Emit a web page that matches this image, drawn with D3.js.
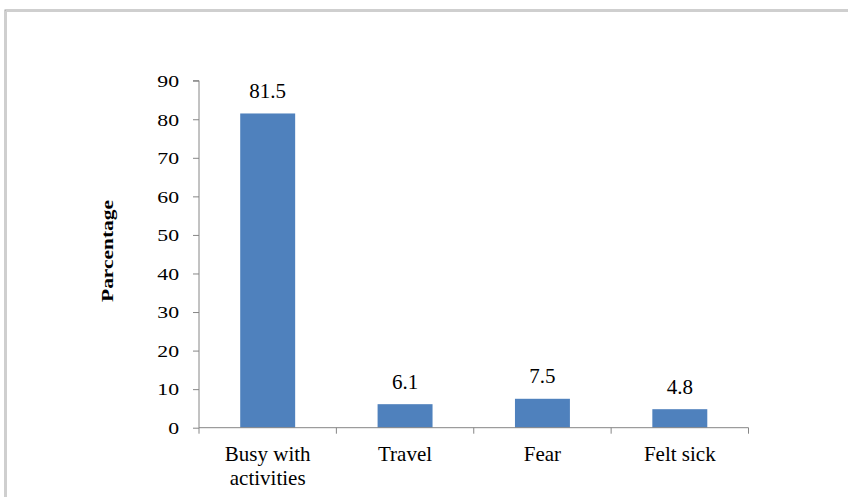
<!DOCTYPE html>
<html><head><meta charset="utf-8">
<script src="https://cdn.jsdelivr.net/npm/d3@7/dist/d3.min.js"></script>
<style>body{margin:0;background:#fff}svg{display:block}</style>
</head><body><svg id="c" width="848" height="497"></svg>
<script>
const categories = [["Busy with","activities"],["Travel"],["Fear"],["Felt sick"]];
const values = [81.5, 6.1, 7.5, 4.8];
const valueLabels = ["81.5","6.1","7.5","4.8"];
const yTicks = [0,10,20,30,40,50,60,70,80,90];
const yTitle = "Parcentage";

const FONT = '"Liberation Serif", "Times New Roman", serif';
const svg = d3.select("#c");
// outer frame
svg.append("rect").attr("x",5).attr("y",10).attr("width",860).attr("height",500)
  .attr("fill","none").attr("stroke","#a0a0a0").attr("stroke-width",1);
svg.append("rect").attr("x",6.5).attr("y",11.5).attr("width",860).attr("height",500)
  .attr("fill","none").attr("stroke","#cfcfcf").attr("stroke-width",1);

const x0 = 199, x1 = 748.5, yTop = 80.7, yBot = 427.7;
const x = d3.scaleBand().domain(d3.range(categories.length)).range([x0,x1]).paddingInner(0.6).paddingOuter(0.3);
const y = d3.scaleLinear().domain([0,90]).range([yBot,yTop]);

const axisColor = "#868686";
// y axis
const ya = svg.append("g").attr("transform",`translate(${x0},0)`)
  .call(d3.axisLeft(y).tickValues(yTicks).tickSize(6).tickPadding(14));
ya.select(".domain").attr("stroke",axisColor).attr("d",`M-6,${yTop}H0V${yBot}`);
ya.selectAll(".tick line").attr("stroke",axisColor);
const sx = 1.28;
ya.selectAll(".tick text").attr("fill","#000")
  .style("font-family",FONT).style("font-size","17px")
  .attr("x",-20/sx).attr("dy","0.34em").attr("transform",`scale(${sx},1)`);

// bars
svg.selectAll("rect.bar").data(values).enter().append("rect").attr("class","bar")
  .attr("x",(d,i)=>x(i)).attr("width",x.bandwidth())
  .attr("y",d=>y(d)).attr("height",d=>yBot-y(d)).attr("fill","#4F81BD");

// x axis
const step = (x1-x0)/categories.length;
const xa = svg.append("g");
xa.append("line").attr("x1",x0).attr("x2",x1).attr("y1",yBot).attr("y2",yBot).attr("stroke",axisColor);
d3.range(categories.length+1).forEach(i=>{
  const xx = x0 + i*step;
  xa.append("line").attr("x1",xx).attr("x2",xx).attr("y1",yBot).attr("y2",yBot+6).attr("stroke",axisColor);
});

// value labels
svg.selectAll("text.val").data(values).enter().append("text").attr("class","val")
  .attr("x",(d,i)=>x(i)+x.bandwidth()/2).attr("y",d=>y(d)-15.5)
  .attr("text-anchor","middle").style("font-family",FONT).style("font-size","21px").attr("fill","#000")
  .text((d,i)=>valueLabels[i]);

// category labels
categories.forEach((lines,i)=>{
  const cx = x(i)+x.bandwidth()/2;
  const t = svg.append("text").attr("text-anchor","middle").style("font-family",FONT).style("font-size","21px")
    .attr("fill","#000").attr("x",cx).attr("y",461);
  lines.forEach((l,j)=>t.append("tspan").attr("x",cx).attr("dy",j?23.5:0).text(l));
});

// y title
svg.append("text").attr("transform","translate(113,251) rotate(-90) scale(1.26,1)").attr("text-anchor","middle")
  .style("font-family",FONT).style("font-size","17px").attr("font-weight","bold").attr("fill","#000").text(yTitle);
</script></body></html>
